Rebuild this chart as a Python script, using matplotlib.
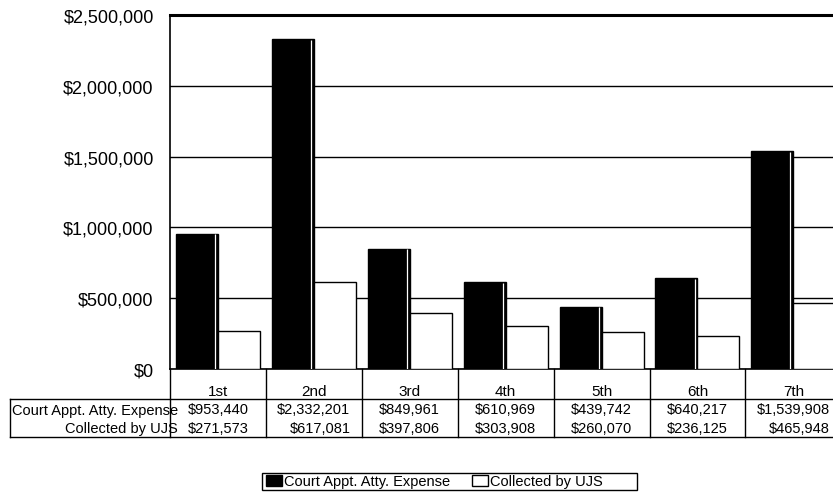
import matplotlib
matplotlib.use("Agg")
import matplotlib.pyplot as plt
from matplotlib.patches import Patch, Rectangle
from matplotlib.lines import Line2D
from matplotlib.ticker import FuncFormatter
import matplotlib.transforms as mtransforms

plt.rcParams['font.family'] = ['Liberation Sans', 'DejaVu Sans']

categories = ["1st", "2nd", "3rd", "4th", "5th", "6th", "7th"]
expense = [953440, 2332201, 849961, 610969, 439742, 640217, 1539908]
collected = [271573, 617081, 397806, 303908, 260070, 236125, 465948]
series_names = ["Court Appt. Atty. Expense", "Collected by UJS"]
yticks = [0, 500000, 1000000, 1500000, 2000000, 2500000]

W, H = 833, 502
fig = plt.figure(figsize=(W / 100, H / 100), dpi=100)

ax_left, ax_top, ax_bottom = 170, 16, 370
col_w = 95.9
ax_right = ax_left + col_w * len(categories)
ax = fig.add_axes([ax_left / W, 1 - ax_bottom / H, (ax_right - ax_left) / W, (ax_bottom - ax_top) / H])

x = list(range(len(categories)))
bw = 0.4375
ax.bar([i - bw for i in x], expense, width=bw, align='edge', color='black',
       edgecolor='black', linewidth=1, zorder=3)
ax.vlines([i - 0.03 for i in x], 0, [v * 0.997 for v in expense], color='white', lw=0.9, zorder=4)
ax.bar(x, collected, width=bw, align='edge', color='white',
       edgecolor='black', linewidth=1, zorder=3)

ax.set_xlim(-0.5, len(categories) - 0.5)
ax.set_ylim(0, 2500000)
ax.set_yticks(yticks)
ax.yaxis.set_major_formatter(FuncFormatter(lambda v, p: "${:,.0f}".format(v)))
ax.tick_params(axis='y', length=0, pad=11.7, labelsize=13)
ax.set_xticks([])
ax.grid(axis='y', color='black', linewidth=1, zorder=1)
for s in ['top', 'right']:
    ax.spines[s].set_visible(False)
ax.spines['left'].set_linewidth(1.2)
ax.spines['bottom'].set_linewidth(1.2)
ax.axhline(2500000, color='black', linewidth=2.2, zorder=2, clip_on=False)

# data table
def fy(py):
    return 1 - py / H

def fx(px):
    return px / W

row_top, row1, row2 = 400, 419, 438
trans = mtransforms.blended_transform_factory(ax.transData, fig.transFigure)
fs = 10.5
fig.add_artist(Line2D([fx(10), fx(ax_right)], [fy(row_top), fy(row_top)], color='black', lw=1))
fig.add_artist(Line2D([fx(10), fx(ax_right)], [fy(row2), fy(row2)], color='black', lw=1))
fig.add_artist(Line2D([fx(10), fx(10)], [fy(row_top), fy(row2)], color='black', lw=1))
for b in range(len(categories) + 1):
    ax.add_artist(Line2D([b - 0.5, b - 0.5], [fy(ax_bottom), fy(row2)], color='black', lw=1,
                         transform=trans, clip_on=False))

fig.canvas.draw()
renderer = fig.canvas.get_renderer()
for i, cat in enumerate(categories):
    ax.text(i, fy(392), cat, transform=trans, ha='center', va='center',
            fontsize=11, clip_on=False)
    t1 = ax.text(i, fy(410.5), "${:,}".format(expense[i]), transform=trans,
                 ha='center', va='center', fontsize=fs, clip_on=False)
    bb = t1.get_window_extent(renderer)
    xr = ax.transData.inverted().transform((bb.x1, 0))[0]
    ax.text(xr, fy(429), "${:,}".format(collected[i]), transform=trans,
            ha='right', va='center', fontsize=fs, clip_on=False)

fig.text(fx(178), fy(410.5), series_names[0], ha='right', va='center', fontsize=fs)
fig.text(fx(178), fy(429), series_names[1], ha='right', va='center', fontsize=fs)

# legend
fig.add_artist(Rectangle((fx(262), fy(491)), fx(637) - fx(262), fy(474) - fy(491),
                         transform=fig.transFigure, facecolor='white', edgecolor='black', lw=1))
handles = [Patch(facecolor='black', edgecolor='black', label=series_names[0]),
           Patch(facecolor='white', edgecolor='black', label=series_names[1])]
leg = fig.legend(handles=handles, loc='center left', bbox_to_anchor=(fx(266), fy(482.5)), ncol=2,
                 frameon=False, fontsize=fs, handlelength=1.1, handleheight=0.7,
                 handletextpad=0.15, columnspacing=1.5, borderpad=0, borderaxespad=0)

fig.savefig("out.png", dpi=100)
